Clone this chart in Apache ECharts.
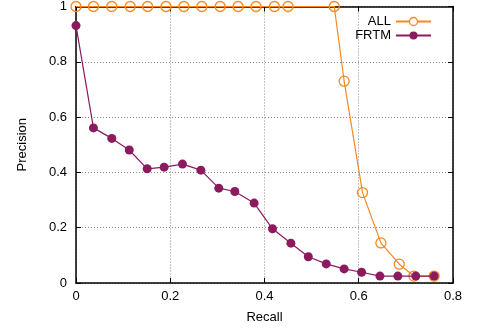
<!DOCTYPE html>
<html><head><meta charset="utf-8">
<script src="https://cdn.jsdelivr.net/npm/echarts@6/dist/echarts.min.js"></script>
<style>html,body{margin:0;padding:0;background:#fff}#c{width:477px;height:330px}</style>
</head><body><div id="c"></div>
<script>
const allRecall = [0, 0.037, 0.076, 0.115, 0.152, 0.191, 0.229, 0.267, 0.306, 0.344, 0.382, 0.421, 0.450, 0.548, 0.569, 0.608, 0.647, 0.686, 0.717, 0.760];
const allPrecision = [1, 1, 1, 1, 1, 1, 1, 1, 1, 1, 1, 1, 1, 1, 0.730, 0.327, 0.145, 0.068, 0.025, 0.025];
const frtmRecall = [0, 0.037, 0.076, 0.113, 0.151, 0.187, 0.226, 0.265, 0.303, 0.337, 0.378, 0.417, 0.456, 0.493, 0.531, 0.569, 0.606, 0.645, 0.683, 0.721, 0.760];
const frtmPrecision = [0.931, 0.561, 0.523, 0.481, 0.413, 0.419, 0.430, 0.408, 0.343, 0.331, 0.289, 0.196, 0.144, 0.095, 0.069, 0.051, 0.039, 0.025, 0.025, 0.025, 0.025];
const xTicks = [0, 0.2, 0.4, 0.6, 0.8];
const yTicks = [0, 0.2, 0.4, 0.6, 0.8, 1];

const FONT = 'Liberation Sans';
const pair = (xs, ys) => xs.map((x, i) => [x, ys[i]]);
const fmt = v => String(+v.toFixed(1));
const chart = echarts.init(document.getElementById('c'), null, {renderer: 'canvas'});
const axisCommon = {
  min: 0, interval: 0.2,
  axisLine: {show: true, onZero: false, lineStyle: {color: '#000', width: 1.5}},
  axisTick: {show: true, inside: true, length: 5, lineStyle: {color: '#000', width: 1}},
  splitLine: {show: true, lineStyle: {color: '#888', type: [1, 2], width: 1}}
};
chart.setOption({
  animation: false,
  grid: {left: 76, right: 24, top: 6, bottom: 47, containLabel: false},
  legend: [
    {data: [{name: 'ALL', itemStyle: {color: '#ffffff', borderColor: '#f5891e', borderWidth: 1.3}}], right: 40, top: 10, orient: 'vertical', align: 'right', itemWidth: 35, itemHeight: 10, itemGap: 4,
     textStyle: {fontFamily: FONT, fontSize: 13, color: '#000'}, selectedMode: false},
    {data: [{name: 'FRTM'}], right: 40, top: 24, orient: 'vertical', align: 'right', itemWidth: 35, itemHeight: 10, itemGap: 4,
     textStyle: {fontFamily: FONT, fontSize: 13, color: '#000'}, selectedMode: false}
  ],
  xAxis: [
    Object.assign({type: 'value', max: 0.8, position: 'bottom',
      name: 'Recall', nameLocation: 'middle', nameGap: 28,
      nameTextStyle: {fontFamily: FONT, fontSize: 13, color: '#000'},
      axisLabel: {fontFamily: FONT, fontSize: 13, color: '#000', margin: 7, formatter: fmt}}, axisCommon),
    Object.assign({}, axisCommon, {type: 'value', max: 0.8, position: 'top', axisLabel: {show: false}, splitLine: {show: false}})
  ],
  yAxis: [
    Object.assign({type: 'value', max: 1, position: 'left',
      name: 'Precision', nameLocation: 'middle', nameGap: 47,
      nameTextStyle: {fontFamily: FONT, fontSize: 13, color: '#000'},
      axisLabel: {fontFamily: FONT, fontSize: 13, color: '#000', margin: 9, formatter: fmt}}, axisCommon),
    Object.assign({}, axisCommon, {type: 'value', max: 1, position: 'right', axisLabel: {show: false}, splitLine: {show: false}})
  ],
  series: [
    {name: 'ALL', type: 'line', data: pair(allRecall, allPrecision), symbol: 'circle', symbolSize: 10,
     lineStyle: {color: '#f5891e', width: 1.2}, itemStyle: {color: 'rgba(255,255,255,0)', borderColor: '#f5891e', borderWidth: 1.3}, z: 2},
    {name: 'FRTM', type: 'line', data: pair(frtmRecall, frtmPrecision), symbol: 'circle', symbolSize: 9,
     lineStyle: {color: '#8b1a5e', width: 1.2}, itemStyle: {color: '#8b1a5e'}, z: 3}
  ]
});
</script></body></html>
